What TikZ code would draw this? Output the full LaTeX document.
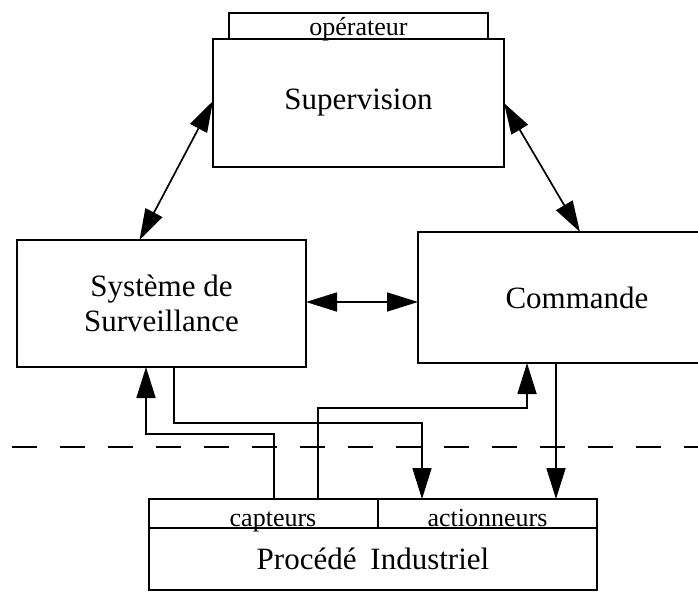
\documentclass[tikz,border=0pt]{standalone}
\usepackage{fontspec}
\setmainfont{Liberation Serif}
\usetikzlibrary{%
   arrows.meta,%
   positioning%
}

\begin{document}
\begin{tikzpicture}[x=1pt,y=-1pt,
	>={Triangle[length=31pt,width=19pt]},
	bloc/.style={
	rectangle,
	draw, line width=1.7pt,
	inner sep=0pt, outer sep=0pt,
	align=center,
	font=\fontsize{31}{35}\selectfont
	},volet/.style={
	rectangle,
	draw, line width=1.7pt,
	inner sep=0pt, outer sep=0pt,
	text depth=0pt,
	font=\fontsize{26}{28}\selectfont
	},lien/.style={
	line width=1.7pt
	},tirets/.style={
	line width=1.6pt, dash pattern=on 25pt off 23pt
	}
]
\useasboundingbox (0,0) rectangle (698,592);

% Blocs
\node (sup) [bloc, minimum width=291pt, minimum height=128pt] at (358.5,103) {Supervision};
\node (oper) [volet, minimum width=259pt, minimum height=26pt, text height=18pt, above=0pt of sup] {opérateur};
\node (surv) [bloc, minimum width=289pt, minimum height=127pt] at (161.5,303.5) {Système de\\Surveillance};
\node (cmd) [bloc, minimum width=318pt, minimum height=131pt] at (577,297.5) {Commande};
% Procede
\node (proc) [bloc, minimum width=448pt, minimum height=62pt] at (373,559) {Procédé\hspace{0.45em}Industriel};
\node (capt) [volet, minimum width=229pt, minimum height=29pt, text height=25pt, above right=0pt of proc.north west] {\hspace*{19pt}capteurs};
\node (act) [volet, minimum width=219pt, minimum height=29pt, text height=25pt, above left=0pt of proc.north east] {actionneurs};

% frontiere
\coordinate (tiretG) at (12,447);
\coordinate (tiretD) at (698,447);
\draw[tirets] (tiretG) -- (tiretD);

%(x,y)
\draw[lien, <->] ([yshift=2pt]sup.west) -- ([xshift=-22pt]surv.north);
\draw[lien, <->] (sup.east) -- ([xshift=3pt]cmd.north);
\draw[lien, <->] ([yshift=1.5pt]surv.east) -- ([yshift=1.5pt]surv.east -| cmd.west);
\draw[lien, ->] ([xshift=10.5pt]capt.north) -- ++(0,-65) -| ([xshift=-15.5pt]surv.south);
\draw[lien, ->] ([xshift=12.5pt]surv.south) -- ++(0,56) -| ([xshift=-65.5pt]act.north);
\draw[lien, ->] ([xshift=54.5pt]capt.north) -- ++(0,-91) -| ([xshift=-50pt]cmd.south);
\draw[lien, ->] ([xshift=-21pt]cmd.south) -- ([xshift=-21pt]cmd.south |- act.north);

\end{tikzpicture}
\end{document}
